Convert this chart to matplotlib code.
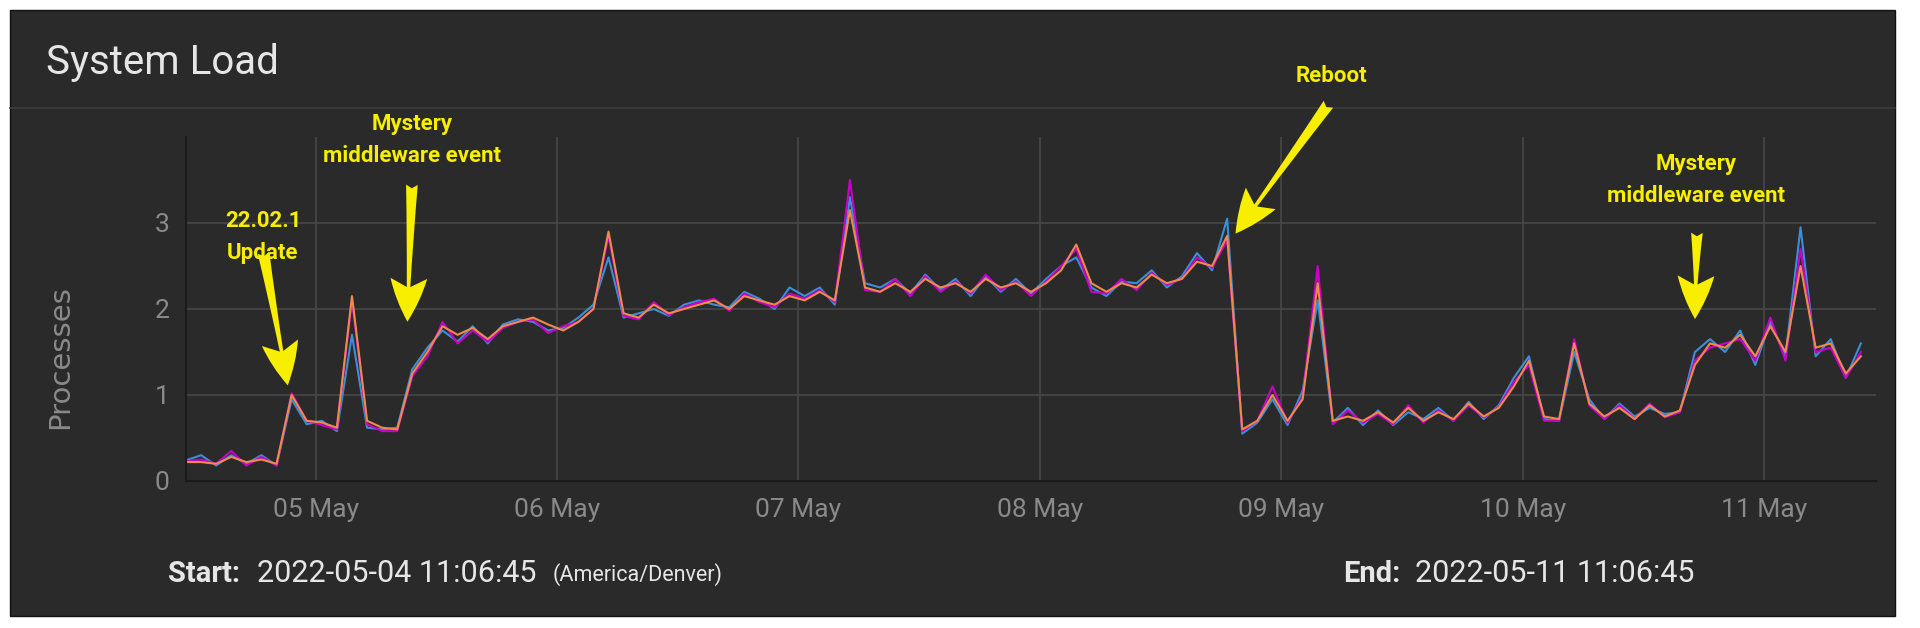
import numpy as np
import pandas as pd
import matplotlib
matplotlib.use("Agg")
import matplotlib.pyplot as plt
import matplotlib.dates as mdates
from matplotlib.patches import Rectangle
from matplotlib.lines import Line2D

# 1.5時間刻みのサンプル (2022-05-04 11:06:45 開始)
START = "2022-05-04 11:06:45"
END = "2022-05-11 11:06:45"

orange = [0.22, 0.22, 0.2, 0.28, 0.22, 0.25, 0.2, 1.0, 0.7, 0.68,
          0.62, 2.15, 0.7, 0.62, 0.6, 1.25, 1.5, 1.8, 1.7, 1.78,
          1.65, 1.8, 1.85, 1.9, 1.82, 1.75, 1.85, 2.0, 2.9, 1.95,
          1.9, 2.05, 1.95, 2.0, 2.05, 2.1, 2.0, 2.15, 2.1, 2.05,
          2.15, 2.1, 2.2, 2.1, 3.15, 2.25, 2.2, 2.3, 2.2, 2.35,
          2.25, 2.3, 2.2, 2.35, 2.25, 2.3, 2.2, 2.3, 2.45, 2.75,
          2.3, 2.2, 2.3, 2.25, 2.4, 2.3, 2.35, 2.55, 2.5, 2.85,
          0.6, 0.7, 1.0, 0.7, 0.95, 2.3, 0.7, 0.75, 0.7, 0.8,
          0.68, 0.85, 0.7, 0.8, 0.72, 0.9, 0.75, 0.85, 1.1, 1.4,
          0.75, 0.72, 1.6, 0.9, 0.75, 0.85, 0.72, 0.88, 0.75, 0.82,
          1.35, 1.6, 1.55, 1.7, 1.45, 1.8, 1.5, 2.5, 1.55, 1.6,
          1.25, 1.45]
blue = [0.24, 0.3, 0.18, 0.3, 0.2, 0.3, 0.18, 0.95, 0.66, 0.7,
        0.58, 1.7, 0.62, 0.6, 0.62, 1.3, 1.55, 1.75, 1.62, 1.8,
        1.6, 1.82, 1.88, 1.85, 1.75, 1.78, 1.9, 2.05, 2.6, 1.9,
        1.95, 2.0, 1.92, 2.05, 2.1, 2.05, 2.02, 2.2, 2.12, 2.0,
        2.25, 2.15, 2.25, 2.05, 3.3, 2.3, 2.25, 2.35, 2.18, 2.4,
        2.22, 2.35, 2.15, 2.38, 2.2, 2.35, 2.18, 2.35, 2.5, 2.6,
        2.25, 2.15, 2.32, 2.3, 2.45, 2.25, 2.38, 2.65, 2.45, 3.05,
        0.55, 0.68, 0.95, 0.65, 1.05, 2.1, 0.68, 0.85, 0.65, 0.82,
        0.65, 0.8, 0.72, 0.85, 0.7, 0.92, 0.72, 0.88, 1.2, 1.45,
        0.72, 0.7, 1.5, 0.95, 0.72, 0.9, 0.75, 0.85, 0.78, 0.8,
        1.5, 1.65, 1.5, 1.75, 1.35, 1.85, 1.45, 2.95, 1.45, 1.65,
        1.2, 1.6]
magenta = [0.23, 0.25, 0.2, 0.35, 0.18, 0.28, 0.18, 1.02, 0.7, 0.65,
           0.6, 2.1, 0.66, 0.58, 0.58, 1.22, 1.45, 1.85, 1.6, 1.75,
           1.62, 1.78, 1.85, 1.88, 1.72, 1.8, 1.85, 2.0, 2.85, 1.92,
           1.88, 2.08, 1.93, 2.02, 2.08, 2.12, 1.98, 2.18, 2.08, 2.02,
           2.18, 2.12, 2.22, 2.08, 3.5, 2.22, 2.2, 2.35, 2.15, 2.38,
           2.2, 2.32, 2.18, 2.4, 2.22, 2.32, 2.15, 2.32, 2.5, 2.7,
           2.2, 2.18, 2.35, 2.22, 2.42, 2.28, 2.35, 2.6, 2.48, 2.8,
           0.58, 0.7, 1.1, 0.68, 0.98, 2.5, 0.66, 0.82, 0.68, 0.78,
           0.66, 0.88, 0.68, 0.82, 0.7, 0.88, 0.74, 0.86, 1.15, 1.35,
           0.7, 0.7, 1.65, 0.88, 0.72, 0.88, 0.72, 0.9, 0.74, 0.8,
           1.4, 1.55, 1.6, 1.65, 1.4, 1.9, 1.4, 2.7, 1.5, 1.55,
           1.2, 1.5]

tick_days = pd.date_range("2022-05-05", "2022-05-11", freq="D")
tick_labels = [d.strftime("%d May") for d in tick_days]

BG = "#2a2a2a"
GRID = "#474747"
YELLOW = "#f7ee00"

times = pd.date_range(START, periods=len(orange), freq="90min")

fig = plt.figure(figsize=(19.2, 6.28), dpi=100, facecolor="white")
fig.patches.append(Rectangle((10 / 1920, 12 / 628), 1885 / 1920, 606 / 628,
                             transform=fig.transFigure, facecolor=BG,
                             edgecolor="#111111", lw=1, zorder=-5))
fig.lines.append(Line2D([10 / 1920, 1895 / 1920], [1 - 108 / 628] * 2,
                        transform=fig.transFigure, color="#3d3d3d", lw=1.2,
                        zorder=-4))

ax = fig.add_axes([186 / 1920, 1 - 481 / 628, 1690 / 1920, 344 / 628])
ax.set_facecolor(BG)
ax.plot(times, blue, color="#3a8fd9", lw=1.5)
ax.plot(times, magenta, color="#c800c8", lw=1.5)
ax.plot(times, orange, color="#f08a4b", lw=1.5)

ax.set_xlim(times[0], pd.Timestamp(END))
ax.set_ylim(0, 4.0)
ax.set_yticks([0, 1, 2, 3])
ax.set_xticks(tick_days)
ax.set_xticklabels(tick_labels)
ax.grid(True, color=GRID, lw=1.2)
for s in ["top", "right"]:
    ax.spines[s].set_visible(False)
ax.spines["left"].set_color("#1a1a1a")
ax.spines["bottom"].set_color("#1a1a1a")
ax.spines["left"].set_linewidth(1.5)
ax.spines["bottom"].set_linewidth(1.5)
ax.tick_params(colors="#8a8a8a", labelsize=19, length=0, pad=12)
for lab in ax.get_xticklabels() + ax.get_yticklabels():
    lab.set_family("Roboto")
ax.set_ylabel("Processes", color="#8a8a8a", fontsize=21)
ax.yaxis.set_label_coords(-0.066, 0.36)

fig.text(46 / 1920, 1 - 62 / 628, "System Load", color="#e6e6e6",
         fontsize=29, va="center", family="Roboto")

# 注釈
arrow = dict(arrowstyle="fancy,head_length=1.3,head_width=1.1,tail_width=0.35",
             mutation_scale=24, color=YELLOW, lw=0)
afont = dict(color=YELLOW, fontsize=16, fontweight="bold", ha="center",
             family="Roboto", stretch="condensed", linespacing=1.6)
ax.annotate("", xy=(times[7] - pd.Timedelta("20min"), 1.08), xycoords="data",
            xytext=(263 / 1920, 1 - 250 / 628), textcoords="figure fraction",
            arrowprops=arrow)
fig.text(263 / 1920, 1 - 237 / 628, "22.02.1\nUpdate", va="center", **afont)
ax.annotate("", xy=(times[15] - pd.Timedelta("30min"), 1.82), xycoords="data",
            xytext=(412 / 1920, 1 - 182 / 628), textcoords="figure fraction",
            arrowprops=arrow)
fig.text(412 / 1920, 1 - 140 / 628, "Mystery\nmiddleware event", va="center", **afont)
ax.annotate("", xy=(times[69] + pd.Timedelta("40min"), 2.85), xycoords="data",
            xytext=(1330 / 1920, 1 - 102 / 628), textcoords="figure fraction",
            arrowprops=arrow)
fig.text(1331 / 1920, 1 - 76 / 628, "Reboot", va="center", **afont)
ax.annotate("", xy=(times[100], 1.85), xycoords="data",
            xytext=(1697 / 1920, 1 - 230 / 628), textcoords="figure fraction",
            arrowprops=arrow)
fig.text(1696 / 1920, 1 - 180 / 628, "Mystery\nmiddleware event", va="center", **afont)

# フッター
fig.text(168 / 1920, 1 - 574 / 628, "Start:", color="#e6e6e6", fontsize=21,
         fontweight="bold", va="center", family="Roboto")
fig.text(257 / 1920, 1 - 574 / 628, "2022-05-04 11:06:45", color="#e6e6e6",
         fontsize=22, va="center", family="Roboto")
fig.text(553 / 1920, 1 - 575 / 628, "(America/Denver)", color="#e6e6e6",
         fontsize=15.5, va="center", family="Roboto")
fig.text(1343 / 1920, 1 - 574 / 628, "End:", color="#e6e6e6", fontsize=21,
         fontweight="bold", va="center", family="Roboto")
fig.text(1415 / 1920, 1 - 574 / 628, "2022-05-11 11:06:45", color="#e6e6e6",
         fontsize=22, va="center", family="Roboto")

fig.savefig("out.png", dpi=100, facecolor="white")
